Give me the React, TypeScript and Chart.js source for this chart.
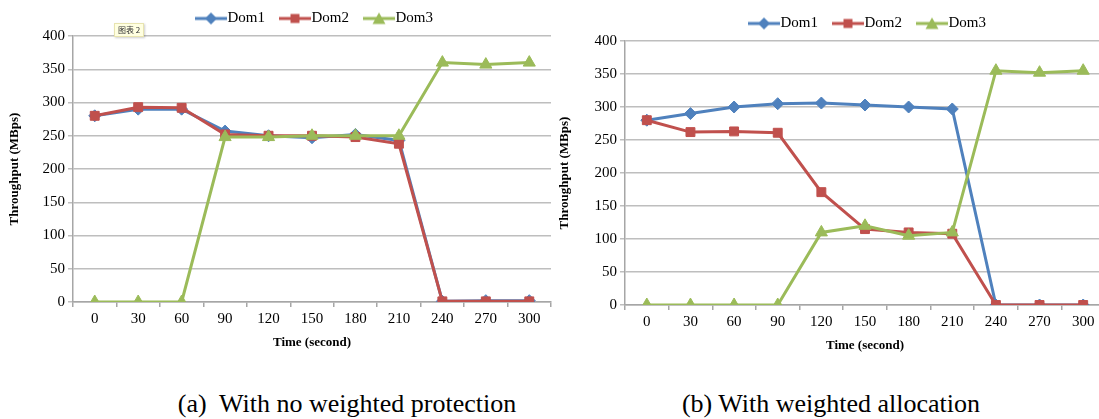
import React, { useEffect, useRef } from 'react';
import { Chart, registerables } from 'chart.js';

Chart.register(...registerables);

// ---------- data ----------
const timeLabels = ['0', '30', '60', '90', '120', '150', '180', '210', '240', '270', '300'];
const seriesNames = ['Dom1', 'Dom2', 'Dom3'];

// (a) With no weighted protection
const noWeightDom1 = [280, 290, 290, 257, 250, 247, 252, 243, 1, 2, 2];
const noWeightDom2 = [280, 293, 292, 252, 250, 250, 248, 238, 1, 1, 1];
const noWeightDom3 = [0, 0, 0, 248, 248, 250, 250, 250, 360, 357, 360];

// (b) With weighted allocation
const weightedDom1 = [280, 290, 300, 305, 306, 303, 300, 297, 0, 0, 0];
const weightedDom2 = [280, 262, 263, 261, 171, 115, 110, 108, 0, 0, 0];
const weightedDom3 = [0, 0, 0, 0, 110, 120, 105, 110, 355, 352, 355];

const yTicksMin = 0;
const yTicksMax = 400;
const yTicksStep = 50;

const captionA = '(a)  With no weighted protection';
const captionB = '(b) With weighted allocation';
const xTitle = 'Time (second)';
const yTitle = 'Throughput (MBps)';

// ---------- styles ----------
const seriesColors = ['#4F81BD', '#C0504D', '#9BBB59'];
const seriesPointStyles = ['rectRot', 'rect', 'triangle'];
const seriesPointRadii = [6, 6.3, 7];
const serif = '"Liberation Serif", "Times New Roman", serif';
const gridColor = '#BEBEBE';
const axisColor = '#A6A6A6';

function legendIcon(color: string, style: string): HTMLCanvasElement {
  // visible part (32px line + marker) sits at the right of a 43px image
  const c = document.createElement('canvas');
  c.width = 43;
  c.height = 14;
  const ctx = c.getContext('2d')!;
  const x0 = 11;
  const cx = x0 + 16;
  ctx.strokeStyle = color;
  ctx.lineWidth = 3;
  ctx.beginPath();
  ctx.moveTo(x0, 7);
  ctx.lineTo(43, 7);
  ctx.stroke();
  ctx.fillStyle = color;
  ctx.beginPath();
  if (style === 'rectRot') {
    ctx.moveTo(cx, 1);
    ctx.lineTo(cx + 6, 7);
    ctx.lineTo(cx, 13);
    ctx.lineTo(cx - 6, 7);
    ctx.closePath();
  } else if (style === 'rect') {
    ctx.rect(cx - 4.5, 2.5, 9, 9);
  } else {
    ctx.moveTo(cx, 1);
    ctx.lineTo(cx + 6.5, 12.5);
    ctx.lineTo(cx - 6.5, 12.5);
    ctx.closePath();
  }
  ctx.fill();
  return c;
}

function buildChart(
  canvas: HTMLCanvasElement,
  series: number[][],
  yWidth: number,
  xHeight: number,
  padRight: number
) {
  const icons = seriesNames.map((_, i) => legendIcon(seriesColors[i], seriesPointStyles[i]));
  return new Chart(canvas, {
    type: 'line',
    data: {
      labels: timeLabels,
      datasets: series.map((values, i) => ({
        label: seriesNames[i],
        data: values,
        borderColor: seriesColors[i],
        backgroundColor: seriesColors[i],
        pointBackgroundColor: seriesColors[i],
        pointBorderColor: seriesColors[i],
        pointStyle: seriesPointStyles[i] as any,
        pointRadius: seriesPointRadii[i],
        pointBorderWidth: 1,
        borderWidth: 3,
        tension: 0,
        fill: false,
        order: 3 - i,
      })),
    },
    options: {
      animation: false,
      responsive: false,
      events: [],
      layout: { padding: { left: 3, right: padRight, top: 1, bottom: 0 } },
      plugins: {
        legend: {
          position: 'top',
          fullSize: false,
          labels: {
            usePointStyle: true,
            pointStyleWidth: 29,
            padding: 10,
            color: '#000',
            font: { family: serif, size: 15 },
            sort: (a: any, b: any) => a.datasetIndex - b.datasetIndex,
            generateLabels: (chart: any) => {
              const items = (Chart.defaults.plugins.legend.labels as any).generateLabels(chart);
              items.forEach((it: any) => {
                it.pointStyle = icons[it.datasetIndex];
              });
              return items;
            },
          },
        },
        tooltip: { enabled: false },
      },
      scales: {
        x: {
          type: 'category',
          offset: true,
          grid: {
            offset: true,
            drawOnChartArea: false,
            drawTicks: true,
            tickLength: 5,
            color: axisColor,
            lineWidth: 1.5,
          },
          border: { display: true, color: axisColor, width: 1.5 },
          ticks: {
            color: '#000',
            font: { family: serif, size: 15 },
            padding: 3,
            maxRotation: 0,
            autoSkip: false,
          },
          title: {
            display: true,
            text: xTitle,
            color: '#000',
            font: { family: serif, size: 13, weight: 'bold' },
            padding: 4,
          },
          afterFit: (s: any) => {
            s.height = xHeight;
          },
        },
        y: {
          min: yTicksMin,
          max: yTicksMax,
          ticks: {
            stepSize: yTicksStep,
            color: '#000',
            font: { family: serif, size: 15 },
            padding: 3,
          },
          grid: { color: gridColor, lineWidth: 1.5, tickLength: 5 },
          border: { display: true, color: axisColor, width: 1.5 },
          title: {
            display: true,
            text: yTitle,
            color: '#000',
            font: { family: serif, size: 13, weight: 'bold' },
            padding: 4,
          },
          afterFit: (s: any) => {
            s.width = yWidth;
          },
        },
      },
    } as any,
  });
}

export default function App() {
  const leftRef = useRef<HTMLCanvasElement>(null);
  const rightRef = useRef<HTMLCanvasElement>(null);

  useEffect(() => {
    const a = buildChart(leftRef.current!, [noWeightDom1, noWeightDom2, noWeightDom3], 70, 52, 9);
    const b = buildChart(rightRef.current!, [weightedDom1, weightedDom2, weightedDom3], 72, 52, 10);
    return () => {
      a.destroy();
      b.destroy();
    };
  }, []);

  return (
    <div
      style={{
        position: 'absolute',
        left: 0,
        top: 0,
        width: 1099,
        height: 419,
        overflow: 'hidden',
        background: '#fff',
      }}
    >
      <canvas
        ref={leftRef}
        width={560}
        height={354}
        style={{ position: 'absolute', left: 0, top: 0, width: 560, height: 354 }}
      />
      <canvas
        ref={rightRef}
        width={565}
        height={352}
        style={{ position: 'absolute', left: 550, top: 5, width: 565, height: 352 }}
      />
      <div
        style={{
          position: 'absolute',
          left: 114,
          top: 23,
          padding: '0 3px',
          height: 12,
          lineHeight: '12px',
          fontSize: 8,
          fontFamily: '"Noto Sans CJK SC", sans-serif',
          color: '#333',
          background: '#FFFFE1',
          border: '1px solid #E8E4B0',
          boxShadow: '1px 1px 2px rgba(0,0,0,0.2)',
        }}
      >
        图表 2
      </div>
      <div
        style={{
          position: 'absolute',
          left: 147,
          top: 389,
          width: 400,
          textAlign: 'center',
          fontFamily: serif,
          fontSize: 26,
          lineHeight: '30px',
          color: '#000',
          whiteSpace: 'pre',
        }}
      >
        {captionA}
      </div>
      <div
        style={{
          position: 'absolute',
          left: 631,
          top: 389,
          width: 400,
          textAlign: 'center',
          fontFamily: serif,
          fontSize: 26,
          lineHeight: '30px',
          color: '#000',
          whiteSpace: 'pre',
        }}
      >
        {captionB}
      </div>
    </div>
  );
}
